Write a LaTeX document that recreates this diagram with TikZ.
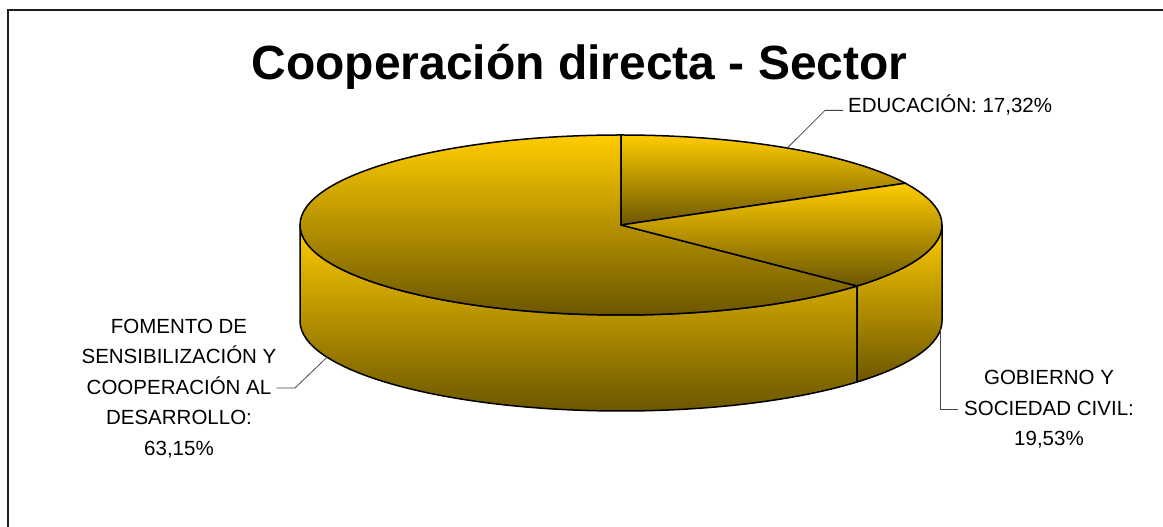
\documentclass[tikz,border=0pt]{standalone}
\usepackage{fontspec}
\setmainfont{Liberation Sans}
\usetikzlibrary{calc}
\definecolor{goldtop}{RGB}{255,204,0}
\definecolor{goldbot}{RGB}{108,86,0}
\definecolor{leadergray}{RGB}{70,70,70}
\definecolor{framegray}{RGB}{30,30,30}
\begin{document}
\begin{tikzpicture}[x=1pt,y=1pt,
  face/.style={draw=black, line width=1.5pt, line join=round, top color=goldtop, bottom color=goldbot},
  leader/.style={draw=leadergray, line width=0.8pt},
  lbl/.style={font=\fontsize{20.5}{30.5}\selectfont, align=center, inner sep=0pt, text=black},
  ell/.style={x radius=321, y radius=90}]
\useasboundingbox (0,0) rectangle (1163,527);
\clip (0,0) rectangle (1163,527);
\fill[white] (0,0) rectangle (1163,527);
\draw[line width=1.6pt, draw=framegray] (8,-20) -- (8,517) -- (1200,517);
% geometry
\coordinate (C) at (621,302);
\coordinate (D) at (621,206);
\coordinate (T90) at ($(C)+(90:321 and 90)$);
\coordinate (T1) at ($(C)+(27.65:321 and 90)$);
\coordinate (T2) at ($(C)+(-42.65:321 and 90)$);
\coordinate (T180) at ($(C)+(180:321 and 90)$);
\coordinate (T360) at ($(C)+(0:321 and 90)$);
\coordinate (B180) at ($(D)+(180:321 and 90)$);
\coordinate (B2) at ($(D)+(-42.65:321 and 90)$);
% side faces
\path[face] (T180) -- (B180) arc[start angle=180, end angle=317.35, ell] -- (T2)
  arc[start angle=317.35, end angle=180, ell] -- cycle;
\path[face] (T2) -- (B2) arc[start angle=317.35, end angle=360, ell] -- (T360)
  arc[start angle=360, end angle=317.35, ell] -- cycle;
% top faces
\path[face] (C) -- (T90) arc[start angle=90, end angle=317.35, ell] -- cycle;
\path[face] (C) -- (T90) arc[start angle=90, end angle=27.65, ell] -- cycle;
\path[face] (C) -- (T1) arc[start angle=27.65, end angle=-42.65, ell] -- cycle;
% title
\node[font=\fontsize{48}{58}\selectfont\bfseries, anchor=base, inner sep=0pt] (title) at (579.5,447) {Cooperación directa - Sector};
% labels
\node[lbl, anchor=base west] (edu) at (848,414) {EDUCACIÓN: 17,32\%};
\node[lbl] (fom) at (179,138.75) {FOMENTO DE\\SENSIBILIZACIÓN Y\\COOPERACIÓN AL\\DESARROLLO:\\63,15\%};
\node[lbl] (gob) at (1049,117.7) {GOBIERNO Y\\SOCIEDAD CIVIL:\\19,53\%};
% leader points
\coordinate (eduP) at ($(C)+(58.8:321 and 90)$);
\coordinate (fomP) at ($(D)+(203.7:321 and 90)$);
\coordinate (gobP) at ($(D)+(-5:321 and 90)$);
\coordinate (fomK) at (295,139);
\draw[leader] (eduP) -- ($(edu.mid west)+(-23,0)$) -- ($(edu.mid west)+(-5,0)$);
\draw[leader] (fomP) -- (fomK) -- (fom.east |- fomK);
\draw[leader] (gobP) -- (gobP |- gob.west) -- ([xshift=-6pt]gob.west);
\end{tikzpicture}
\end{document}
